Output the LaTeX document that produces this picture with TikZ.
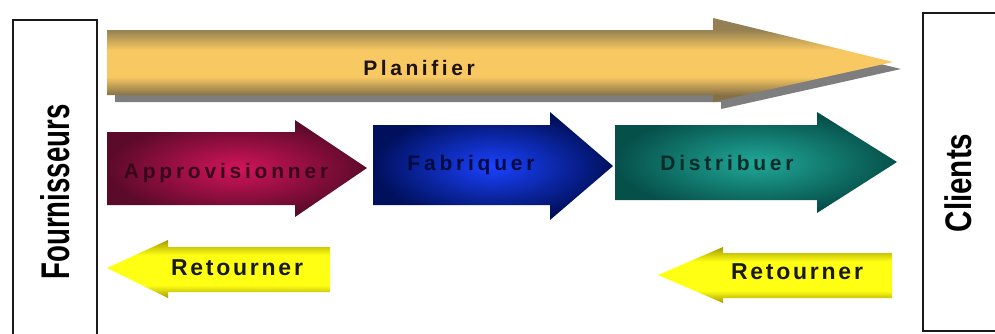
\documentclass[tikz,border=0pt]{standalone}
\usepackage{fontspec}
\setmainfont{Liberation Sans}
\usetikzlibrary{shadings}
\definecolor{goldmid}{HTML}{F8C862}
\definecolor{goldtop}{HTML}{948052}
\definecolor{goldbot}{HTML}{857046}
\definecolor{shadowgray}{HTML}{7E7E7E}
\definecolor{crimsonin}{HTML}{D2145A}
\definecolor{crimsonout}{HTML}{5C0A2A}
\definecolor{bluein}{HTML}{1A42FF}
\definecolor{blueout}{HTML}{00105C}
\definecolor{tealin}{HTML}{20A898}
\definecolor{tealout}{HTML}{06504A}
\definecolor{yellowmid}{HTML}{FFFF14}
\definecolor{yellowedge}{HTML}{A49C00}
\definecolor{boxline}{HTML}{1A1A1A}
% banded vertical shadings: the path spans 25bp..75bp of the shading
\pgfdeclareverticalshading{goldband}{100bp}{color(0bp)=(goldbot); color(29bp)=(goldbot);
  color(40bp)=(goldmid); color(56bp)=(goldmid); color(68bp)=(goldtop); color(100bp)=(goldtop)}
\pgfdeclareverticalshading{yellowband}{100bp}{color(0bp)=(yellowedge); color(25bp)=(yellowedge);
  color(36bp)=(yellowmid); color(62bp)=(yellowmid); color(75bp)=(yellowedge); color(100bp)=(yellowedge)}
\begin{document}
\begin{tikzpicture}[x=1pt,y=-1pt,
  sidebox/.style={draw=boxline,line width=2.6pt},
  sidelabel/.style={inner sep=0pt,rotate=90,text=black},
  steplabel/.style={inner sep=0pt,anchor=base,font=\fontsize{21}{21}\selectfont\bfseries\addfontfeature{LetterSpace=18}},
  returnlabel/.style={inner sep=0pt,anchor=base,text=black!90,font=\fontsize{23}{23}\selectfont\bfseries\addfontfeature{LetterSpace=12}}]
\clip (0,0) rectangle (995,333);
\fill[white] (0,0) rectangle (995,333);

% supplier and customer frames
\draw[sidebox] (13,20) rectangle (97,345);
\draw[sidebox] (923,13) rectangle (1010,331);
\node[sidelabel] (fourn) at (55,192) {\fontsize{40}{40}\selectfont\bfseries\scalebox{0.69}[1]{Fournisseurs}};
\node[sidelabel] (clients) at (958,183) {\fontsize{37}{37}\selectfont\bfseries\scalebox{0.8}[1]{Clients}};

% planning arrow with its drop shadow
\fill[shadowgray] ([shift={(8,7)}]107,30) -- ([shift={(8,7)}]713,30) -- ([shift={(8,7)}]713,18)
  -- ([shift={(8,7)}]893,62) -- ([shift={(8,7)}]713,102) -- ([shift={(8,7)}]713,95)
  -- ([shift={(8,7)}]107,95) -- cycle;
\shade[shading=goldband]
  (107,30) -- (713,30) -- (713,18) -- (893,62) -- (713,102) -- (713,95) -- (107,95) -- cycle;
\node[steplabel,text=black!85!brown,font=\fontsize{21}{21}\selectfont\bfseries\addfontfeature{LetterSpace=17}] (planifier) at (419,75) {Planifier};

% process arrows
\shade[inner color=crimsonin,outer color=crimsonout]
  (107,132) -- (295,132) -- (295,120) -- (367,168) -- (295,217) -- (295,205) -- (107,205) -- cycle;
\node[steplabel,text=crimsonout!60!black] (appro) at (226,178) {Approvisionner};

\shade[inner color=bluein,outer color=blueout]
  (373,125) -- (550,125) -- (550,112) -- (613,166) -- (550,220) -- (550,205) -- (373,205) -- cycle;
\node[steplabel,text=blueout!70!black] (fabriquer) at (471,170) {Fabriquer};

\shade[inner color=tealin,outer color=tealout]
  (615,125) -- (817,125) -- (817,112) -- (897,162) -- (817,213) -- (817,200) -- (615,200) -- cycle;
\node[steplabel,text=tealout!55!black] (distribuer) at (727,170) {Distribuer};

% return arrows
\shade[shading=yellowband]
  (107,268) -- (168,240) -- (168,247) -- (330,247) -- (330,292) -- (168,292) -- (168,298) -- cycle;
\node[returnlabel] (retourL) at (237,275) {Retourner};

\shade[shading=yellowband]
  (658,275) -- (723,247) -- (723,253) -- (892,253) -- (892,298) -- (723,298) -- (723,303) -- cycle;
\node[returnlabel] (retourR) at (797,279) {Retourner};
\end{tikzpicture}
\end{document}
